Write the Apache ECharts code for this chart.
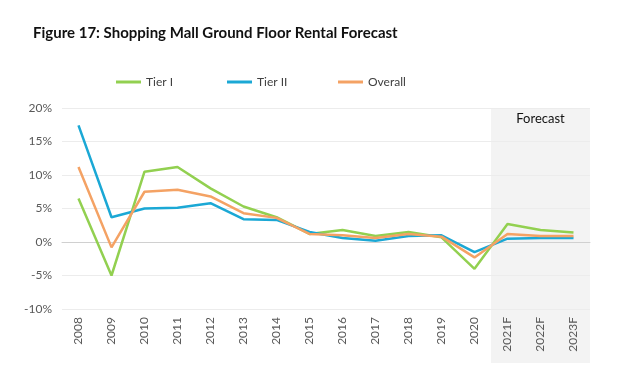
<!DOCTYPE html>
<html><head><meta charset="utf-8">
<script src="https://cdn.jsdelivr.net/npm/echarts@6/dist/echarts.min.js"></script>
<style>html,body{margin:0;padding:0;background:#fff}#c{width:624px;height:383px}</style>
</head><body><div id="c"></div>
<script>
const categories = ['2008','2009','2010','2011','2012','2013','2014','2015','2016','2017','2018','2019','2020','2021F','2022F','2023F'];
const tier1 = [6.5,-5.0,10.5,11.2,8.0,5.3,3.7,1.2,1.8,0.9,1.5,0.7,-4.0,2.7,1.8,1.4];
const tier2 = [17.4,3.7,5.0,5.1,5.8,3.4,3.3,1.5,0.6,0.2,0.9,1.0,-1.5,0.5,0.6,0.6];
const overall = [11.2,-0.8,7.5,7.8,6.8,4.3,3.6,1.2,1.0,0.6,1.2,0.8,-2.3,1.2,0.9,0.9];
const yTicks = [-10,-5,0,5,10,15,20];
const forecastStart = '2021F';

const chart = echarts.init(document.getElementById('c'), null, {renderer:'canvas'});
const font = 'Lato, "Noto Sans", sans-serif';
const legendBase = {top:71, itemWidth:25, itemHeight:3, icon:'rect', itemGap:5,
  textStyle:{color:'#404040', fontSize:12, fontFamily:font}, selectedMode:false};
const mkSeries = (name, data, color) => ({
  name, type:'line', data, symbol:'none', smooth:false,
  lineStyle:{width:2.5, color}, itemStyle:{color}, z:3
});
chart.setOption({
  animation:false,
  title:{text:'Figure 17: Shopping Mall Ground Floor Rental Forecast', left:28, top:21,
    textStyle:{fontFamily:'Lato, sans-serif', fontSize:15, fontWeight:'bold', color:'#111'}},
  legend:[
    Object.assign({}, legendBase, {left:111, data:['Tier I']}),
    Object.assign({}, legendBase, {left:222, data:['Tier II']}),
    Object.assign({}, legendBase, {left:333, data:['Overall']})
  ],
  grid:{left:62, right:34, top:108, bottom:74, containLabel:false},
  xAxis:{type:'category', data:categories, boundaryGap:true,
    axisLine:{show:true, onZero:true, lineStyle:{color:'#d0d0d0', width:1}},
    axisTick:{show:false},
    axisLabel:{rotate:90, color:'#595959', fontSize:12, fontFamily:font, margin:8, interval:0}},
  yAxis:{type:'value', min:-10, max:20, interval:5,
    axisLine:{show:false}, axisTick:{show:false},
    splitLine:{lineStyle:{color:'#ececec', width:1}},
    axisLabel:{color:'#595959', fontSize:12, fontFamily:font, margin:10,
      formatter: v => yTicks.includes(v) ? v + '%' : ''}},
  series:[
    mkSeries('Tier I', tier1, '#92d050'),
    mkSeries('Tier II', tier2, '#1ba8d5'),
    mkSeries('Overall', overall, '#f4a264')
  ]
});
// forecast shading positioned from the axis scale
const idx = categories.indexOf(forecastStart);
const pPrev = chart.convertToPixel({xAxisIndex:0}, categories[idx-1]);
const pCur = chart.convertToPixel({xAxisIndex:0}, categories[idx]);
const band = pCur - pPrev;
const x0 = (pPrev + pCur) / 2;
const x1 = chart.convertToPixel({xAxisIndex:0}, categories[categories.length-1]) + band/2;
const yTop = chart.convertToPixel({yAxisIndex:0}, 20);
chart.setOption({graphic:[
  {type:'rect', shape:{x:x0, y:yTop, width:x1-x0, height:363-yTop}, style:{fill:'#f3f3f3'}, z:-10, silent:true},
  {type:'text', x:(x0+x1)/2, y:yTop+11, style:{text:'Forecast', fill:'#111', font:'13px ' + font, textAlign:'center', textVerticalAlign:'middle'}, z:10}
]});
</script></body></html>
